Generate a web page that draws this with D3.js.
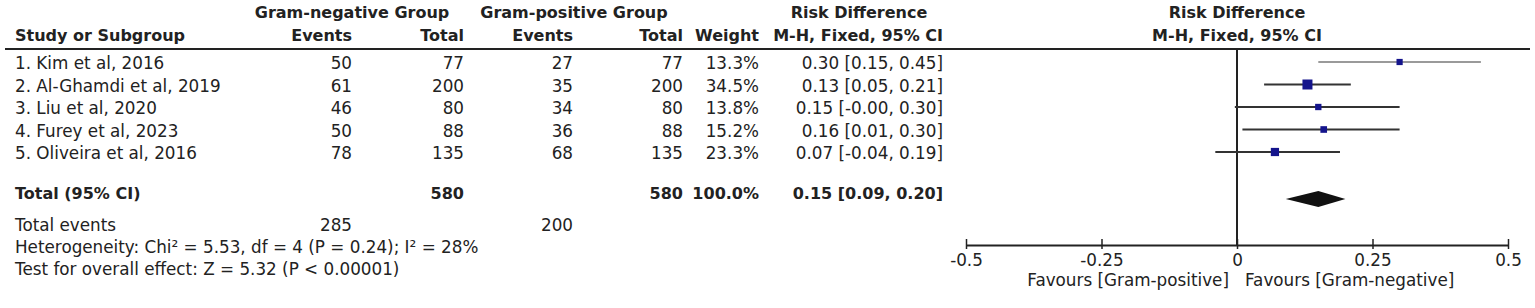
<!DOCTYPE html>
<html>
<head>
<meta charset="utf-8">
<script src="https://cdn.jsdelivr.net/npm/d3@7"></script>
<style>
  body { margin: 0; background: #fff; }
  svg text { font-family: 'DejaVu Sans', sans-serif; font-size: 16.8px; fill: #222; }
  svg text.bold { font-weight: bold; font-size: 16px; }
</style>
</head>
<body>
<svg id="chart"></svg>
<script>
// Study data
const studies = ['1. Kim et al, 2016', '2. Al-Ghamdi et al, 2019', '3. Liu et al, 2020', '4. Furey et al, 2023', '5. Oliveira et al, 2016'];
const negEvents = [50, 61, 46, 50, 78];
const negTotal = [77, 200, 80, 88, 135];
const posEvents = [27, 35, 34, 36, 68];
const posTotal = [77, 200, 80, 88, 135];
const weights = [13.3, 34.5, 13.8, 15.2, 23.3];
const riskDiff = [0.30, 0.13, 0.15, 0.16, 0.07];
const ciLow = [0.15, 0.05, -0.004, 0.01, -0.04];
const ciHigh = [0.45, 0.21, 0.30, 0.30, 0.19];

// pooled result
const pooled = {rd: 0.15, low: 0.09, high: 0.20, negTotal: 580, posTotal: 580, weight: 100.0, negEvents: 285, posEvents: 200};
const heterogeneity = 'Heterogeneity: Chi² = 5.53, df = 4 (P = 0.24); I² = 28%';
const overallTest = 'Test for overall effect: Z = 5.32 (P < 0.00001)';

const axisTicks = [-0.5, -0.25, 0, 0.25, 0.5];
const axisTickLabels = ['-0.5', '-0.25', '0', '0.25', '0.5'];
const favourLeft = 'Favours [Gram-positive]';
const favourRight = 'Favours [Gram-negative]';

const width = 1535, height = 308;

const svg = d3.select('#chart')
    .attr('width', width)
    .attr('height', height);

// column anchors (right edges)
const col = {study: 15, negEv: 352, negTot: 464, posEv: 573, posTot: 683, weight: 759, ci: 943};

const x = d3.scaleLinear()
    .domain([-0.5, 0.5])
    .range([966, 1508]);

const rowY = d3.scaleLinear()
    .domain([0, studies.length - 1])
    .range([69, 159]);

const totalY = 199;
const markOffset = 7;

const boxSize = d3.scaleSqrt()
    .domain([0, d3.max(weights)])
    .range([0, 10]);

const fmt = v => v.toFixed(2);
const ciText = (rd, lo, hi) => `${fmt(rd)} [${fmt(lo)}, ${fmt(hi)}]`;

function addText(txt, xPos, yPos, anchor, bold) {
  svg.append('text')
      .attr('x', xPos)
      .attr('y', yPos)
      .attr('text-anchor', anchor || 'start')
      .attr('class', bold ? 'bold' : null)
      .text(txt);
}

// headers
addText('Gram-negative Group', 352, 18, 'middle', true);
addText('Gram-positive Group', 574, 18, 'middle', true);
addText('Risk Difference', 859, 18, 'middle', true);
addText('Risk Difference', x(0), 18, 'middle', true);

addText('Study or Subgroup', col.study, 41, 'start', true);
addText('Events', col.negEv, 41, 'end', true);
addText('Total', col.negTot, 41, 'end', true);
addText('Events', col.posEv, 41, 'end', true);
addText('Total', col.posTot, 41, 'end', true);
addText('Weight', col.weight, 41, 'end', true);
addText('M-H, Fixed, 95% CI', col.ci, 41, 'end', true);
addText('M-H, Fixed, 95% CI', x(0), 41, 'middle', true);

svg.append('line')
    .attr('x1', 5).attr('x2', 1530)
    .attr('y1', 49).attr('y2', 49)
    .attr('stroke', '#222')
    .attr('stroke-width', 2);

// study rows
studies.forEach((s, i) => {
  const y = rowY(i);
  addText(s, col.study, y);
  addText(negEvents[i], col.negEv, y, 'end');
  addText(negTotal[i], col.negTot, y, 'end');
  addText(posEvents[i], col.posEv, y, 'end');
  addText(posTotal[i], col.posTot, y, 'end');
  addText(weights[i].toFixed(1) + '%', col.weight, y, 'end');
  addText(ciText(riskDiff[i], ciLow[i], ciHigh[i]), col.ci, y, 'end');
});

// total rows
addText('Total (95% CI)', col.study, totalY, 'start', true);
addText(pooled.negTotal, col.negTot, totalY, 'end', true);
addText(pooled.posTotal, col.posTot, totalY, 'end', true);
addText(pooled.weight.toFixed(1) + '%', col.weight, totalY, 'end', true);
addText(ciText(pooled.rd, pooled.low, pooled.high), col.ci, totalY, 'end', true);

addText('Total events', col.study, 231);
addText(pooled.negEvents, col.negEv, 231, 'end');
addText(pooled.posEvents, col.posEv, 231, 'end');
addText(heterogeneity, col.study, 253);
addText(overallTest, col.study, 275);

// forest plot
const axisY = 245;
const plot = svg.append('g');

plot.append('line')
    .attr('x1', x(0)).attr('x2', x(0))
    .attr('y1', 49).attr('y2', axisY)
    .attr('stroke', '#222')
    .attr('stroke-width', 2);

plot.selectAll('.ci-line')
    .data(studies)
    .join('line')
    .attr('class', 'ci-line')
    .attr('x1', (d, i) => x(ciLow[i]))
    .attr('x2', (d, i) => x(ciHigh[i]))
    .attr('y1', (d, i) => rowY(i) - markOffset)
    .attr('y2', (d, i) => rowY(i) - markOffset)
    .attr('stroke', (d, i) => i === 0 ? '#9a9a9a' : '#333')
    .attr('stroke-width', 2);

plot.selectAll('.box')
    .data(studies)
    .join('rect')
    .attr('class', 'box')
    .attr('x', (d, i) => x(riskDiff[i]) - boxSize(weights[i]) / 2)
    .attr('y', (d, i) => rowY(i) - markOffset - boxSize(weights[i]) / 2)
    .attr('width', (d, i) => boxSize(weights[i]))
    .attr('height', (d, i) => boxSize(weights[i]))
    .attr('fill', '#14148c');

const dy = totalY;
plot.append('path')
    .attr('d', `M${x(pooled.low)},${dy} L${x(pooled.rd)},${dy - 8} L${x(pooled.high)},${dy} L${x(pooled.rd)},${dy + 8} Z`)
    .attr('fill', '#111');

// axis
const axis = d3.axisBottom(x)
    .tickValues(axisTicks)
    .tickFormat((d, i) => axisTickLabels[i])
    .tickSize(0)
    .tickPadding(9);

const axisG = plot.append('g')
    .attr('transform', `translate(0,${axisY})`)
    .call(axis);

axisG.select('.domain')
    .attr('stroke', '#222')
    .attr('stroke-width', 2);

axisG.selectAll('.tick text')
    .style('font-size', '16.8px')
    .style('font-family', "'DejaVu Sans', sans-serif")
    .attr('fill', '#222');

axisG.selectAll('.tick')
    .append('line')
    .attr('y1', -6).attr('y2', 4)
    .attr('stroke', '#222')
    .attr('stroke-width', 1.5);

addText(favourLeft, x(0) - 8, 286, 'end');
addText(favourRight, x(0) + 8, 286, 'start');
</script>
</body>
</html>
